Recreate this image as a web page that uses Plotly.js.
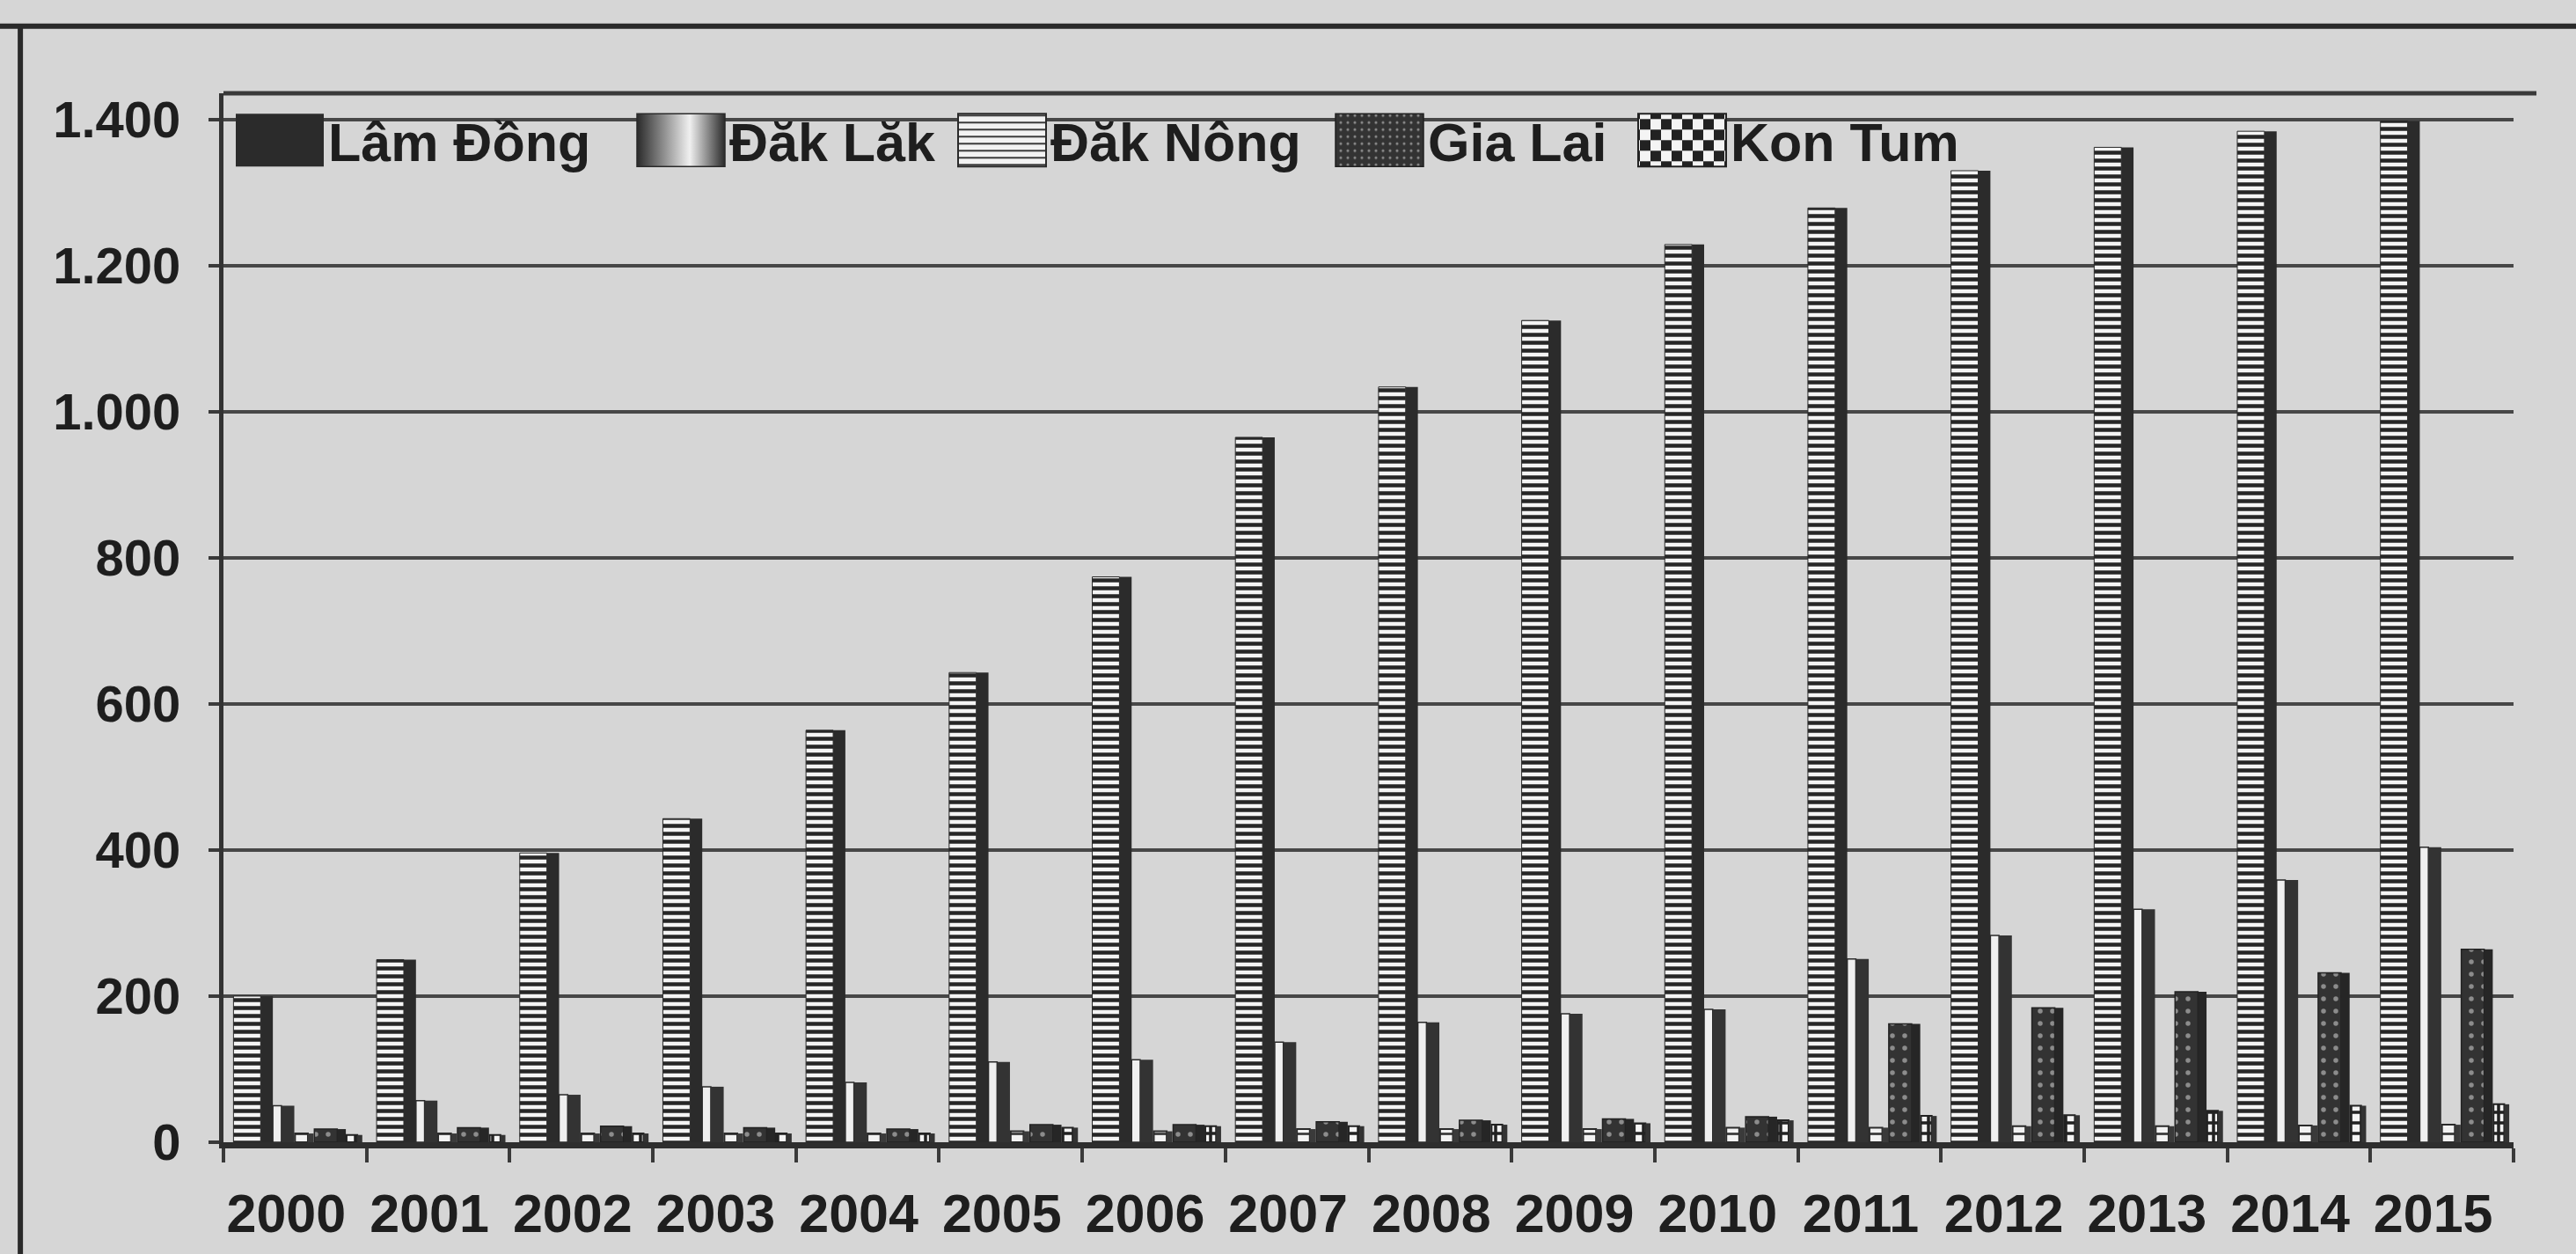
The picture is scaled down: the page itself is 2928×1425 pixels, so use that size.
<!DOCTYPE html>
<html>
<head>
<meta charset="utf-8">
<script src="https://cdn.plot.ly/plotly-3.0.1.min.js"></script>
<style>html,body{margin:0;padding:0;background:#d6d6d6;}#chart{width:2928px;height:1425px;}</style>
</head>
<body>
<div id="chart"></div>
<script>
// ---- data ----
const years = ['2000','2001','2002','2003','2004','2005','2006','2007','2008','2009','2010','2011','2012','2013','2014','2015'];
const seriesNames = ['Lâm Đồng','Đăk Lăk','Đăk Nông','Gia Lai','Kon Tum'];
const lamDong = [200, 250, 396, 443, 564, 643, 774, 965, 1034, 1125, 1229, 1279, 1330, 1362, 1384, 1398];
const dakLak  = [50, 57, 65, 76, 82, 110, 113, 137, 164, 176, 182, 251, 283, 319, 359, 404];
const dakNong = [12, 12, 12, 12, 12, 15, 15, 18, 18, 18, 20, 20, 22, 22, 23, 24];
const giaLai  = [18, 20, 22, 20, 18, 24, 24, 28, 30, 32, 35, 162, 184, 206, 232, 264];
const konTum  = [10, 10, 12, 12, 12, 20, 22, 22, 24, 26, 30, 36, 37, 43, 50, 52];
const yTicks = [0, 200, 400, 600, 800, 1000, 1200, 1400];

const values = [lamDong, dakLak, dakNong, giaLai, konTum];

// ---- styles (front face + darker side face to mimic the 3-D look) ----
const geom = [
  {start:-0.43, front:0.19, side:0.085},
  {start:-0.155, front:0.06, side:0.09},
  {start:0.0, front:0.09, side:0.04},
  {start:0.135, front:0.16, side:0.06},
  {start:0.36, front:0.075, side:0.035}
];
const frontMarker = [
  {color:'#f4f4f4', pattern:{shape:'-', fgcolor:'#262626', bgcolor:'#f4f4f4', size:9, solidity:0.5, fillmode:'replace'}, line:{color:'#2a2a2a', width:1}},
  {color:'#efefef', line:{color:'#2a2a2a', width:1.5}},
  {color:'#f2f2f2', pattern:{shape:'-', fgcolor:'#3a3a3a', bgcolor:'#f2f2f2', size:11, solidity:0.25, fillmode:'replace'}, line:{color:'#2a2a2a', width:2}},
  {color:'#333333', pattern:{shape:'.', fgcolor:'#8c8c8c', bgcolor:'#333333', size:14, solidity:0.12, fillmode:'replace'}, line:{color:'#222', width:1.5}},
  {color:'#f4f4f4', pattern:{shape:'+', fgcolor:'#222222', bgcolor:'#f4f4f4', size:12, solidity:0.5, fillmode:'replace'}, line:{color:'#222', width:2}}
];
const sideColor = ['#2b2b2b', '#333333', '#3a3a3a', '#262626', '#333333'];
const legendOnSide = [true, false, false, false, false];
// legend swatch left edges (px) and swatch size, as in the reference
const legendSwatchLeft = [268, 724, 1089, 1518, 1862];

const data = [];
values.forEach(function(vals, i){
  data.push({
    type:'bar', x: years, y: vals, name: seriesNames[i],
    offset: geom[i].start, width: geom[i].front,
    marker: frontMarker[i],
    showlegend: !legendOnSide[i], legendrank: i+1,
    hoverinfo:'x+y+name'
  });
  data.push({
    type:'bar', x: years, y: vals, name: seriesNames[i],
    offset: geom[i].start + geom[i].front, width: geom[i].side,
    marker: {color: sideColor[i], line:{width:0}},
    showlegend: legendOnSide[i], legendrank: i+1,
    hoverinfo:'skip'
  });
});

const FONT = 'Liberation Sans, Arial, sans-serif';
const layout = {
  width: 2928, height: 1425,
  margin: {l:254, r:71, t:106, b:127},
  paper_bgcolor:'#d6d6d6', plot_bgcolor:'#d6d6d6',
  barmode:'overlay',
  separators: ',.',
  font: {family: FONT, size: 58, color:'#1e1e1e', weight:'bold'},
  xaxis: {
    type:'category', range:[-0.5, 15.5],
    showline:true, linewidth:7, linecolor:'#2e2e2e',
    ticks:'outside', tickson:'boundaries', ticklen:16, tickwidth:4, tickcolor:'#3a3a3a',
    tickfont:{family:FONT, size:61, color:'#1e1e1e', weight:'bold'},
    ticklabelshift:-10, ticklabelstandoff:22,
    showgrid:false, zeroline:false, fixedrange:true
  },
  yaxis: {
    range:[0, 1436], tickvals: yTicks, tickformat:',d', separatethousands:true,
    showline:true, linewidth:5, linecolor:'#333',
    ticks:'outside', ticklen:12, tickwidth:4, tickcolor:'#3a3a3a',
    tickfont:{family:FONT, size:58, color:'#1e1e1e', weight:'bold'},
    ticklabelstandoff:20,
    showgrid:true, gridcolor:'#474747', gridwidth:4,
    zeroline:false, fixedrange:true
  },
  legend: {
    orientation:'h', x:0.0, xanchor:'left', y:0.955, yanchor:'middle',
    bgcolor:'rgba(0,0,0,0)', borderwidth:0, itemwidth:100,
    font:{family:FONT, size:61, color:'#1e1e1e', weight:'bold'},
    traceorder:'normal'
  },
  shapes: [
    {type:'line', xref:'paper', yref:'paper', x0:0, x1:1.01, y0:1, y1:1, line:{color:'#3a3a3a', width:5}},
    {type:'line', xref:'paper', yref:'paper', x0:-0.0887, x1:-0.0887, y0:-0.11, y1:1.064, line:{color:'#2a2a2a', width:6}},
    {type:'line', xref:'paper', yref:'paper', x0:-0.1, x1:1.03, y0:1.064, y1:1.064, line:{color:'#2a2a2a', width:6}}
  ],
  showlegend:true
};

Plotly.newPlot('chart', data, layout, {staticPlot:true, displayModeBar:false}).then(function(gd){
  const ns = 'http://www.w3.org/2000/svg';
  const svg = gd.querySelector('svg.main-svg');
  let defs = svg.querySelector('defs');
  if(!defs){ defs = document.createElementNS(ns,'defs'); svg.insertBefore(defs, svg.firstChild); }
  // gradient swatch for Đăk Lăk
  const lg = document.createElementNS(ns,'linearGradient');
  lg.setAttribute('id','dakLakGrad'); lg.setAttribute('x1','0'); lg.setAttribute('x2','1'); lg.setAttribute('y1','0'); lg.setAttribute('y2','0');
  [['0','#2a2a2a'],['0.6','#f0f0f0'],['1','#2a2a2a']].forEach(function(s){
    const st = document.createElementNS(ns,'stop'); st.setAttribute('offset', s[0]); st.setAttribute('stop-color', s[1]); lg.appendChild(st);
  });
  defs.appendChild(lg);
  // checkerboard swatch for Kon Tum
  const pt = document.createElementNS(ns,'pattern');
  pt.setAttribute('id','konTumCheck'); pt.setAttribute('patternUnits','userSpaceOnUse');
  pt.setAttribute('width','24'); pt.setAttribute('height','24');
  [['0','0','24','24','#f4f4f4'],['0','0','12','12','#222'],['12','12','12','12','#222']].forEach(function(r){
    const rc = document.createElementNS(ns,'rect');
    rc.setAttribute('x',r[0]); rc.setAttribute('y',r[1]); rc.setAttribute('width',r[2]); rc.setAttribute('height',r[3]); rc.setAttribute('fill',r[4]);
    pt.appendChild(rc);
  });
  defs.appendChild(pt);

  gd.querySelectorAll('.legend [clip-path]').forEach(function(el){ el.removeAttribute('clip-path'); });
  const items = gd.querySelectorAll('.legend .traces');
  items.forEach(function(tr, k){
    const p = tr.querySelector('.legendpoints path');
    if(!p) return;
    p.setAttribute('d', 'M-50,-30H50V30H-50Z');
    if(k === 1){ p.style.fill = 'url(#dakLakGrad)'; }
    if(k === 4){ p.style.fill = 'url(#konTumCheck)'; }
    const r = p.getBoundingClientRect();
    const delta = legendSwatchLeft[k] - r.left;
    const m = /translate\(([-\d.e]+)[ ,]+([-\d.e]+)\)/.exec(tr.getAttribute('transform') || 'translate(0,0)');
    const tx = m ? parseFloat(m[1]) : 0, ty = m ? parseFloat(m[2]) : 0;
    tr.setAttribute('transform', 'translate(' + (tx + delta) + ',' + ty + ')');
  });
});
</script>
</body>
</html>
